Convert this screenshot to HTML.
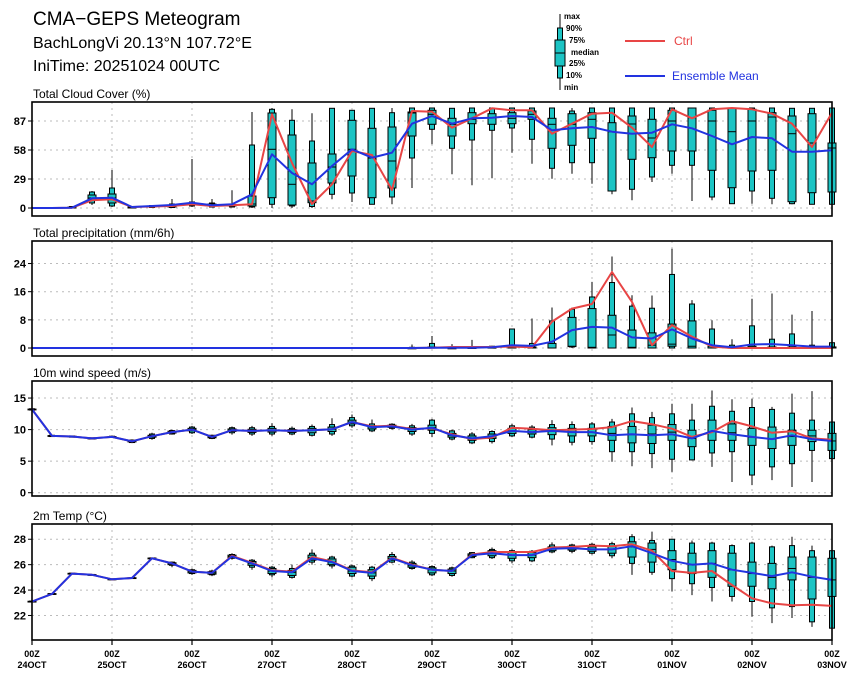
<!DOCTYPE html>
<html><head><meta charset="utf-8"><style>
html,body{margin:0;padding:0;background:#fff;}
svg{display:block;font-family:"Liberation Sans",sans-serif;}
</style></head><body>
<svg id="chart" width="860" height="678" viewBox="0 0 860 678" xmlns="http://www.w3.org/2000/svg">
<text x="33" y="25" font-size="19" fill="#000">CMA−GEPS Meteogram</text>
<text x="33" y="48" font-size="16" fill="#000">BachLongVi 20.13°N 107.72°E</text>
<text x="33" y="71" font-size="16" fill="#000">IniTime: 20251024 00UTC</text>
<g>
  <line x1="560" y1="14" x2="560" y2="90" stroke="#000" stroke-width="1"/>
  <rect x="557.5" y="28" width="5" height="50" fill="#1cc4c4" stroke="#000" stroke-width="1"/>
  <rect x="555" y="40" width="10" height="26" fill="#1cc4c4" stroke="#000" stroke-width="1"/>
  <line x1="555" y1="53" x2="565" y2="53" stroke="#000" stroke-width="1"/>
  <g font-size="8" font-weight="bold" fill="#000">
    <text x="564" y="19">max</text>
    <text x="566" y="31">90%</text>
    <text x="569" y="43">75%</text>
    <text x="571" y="55">median</text>
    <text x="569" y="66">25%</text>
    <text x="566" y="78">10%</text>
    <text x="564" y="90">min</text>
  </g>
  <line x1="625" y1="41" x2="665" y2="41" stroke="#e84545" stroke-width="2"/>
  <text x="674" y="45" font-size="12" fill="#e84545">Ctrl</text>
  <line x1="625" y1="76" x2="665" y2="76" stroke="#2233e0" stroke-width="2"/>
  <text x="672" y="80" font-size="12" fill="#2233e0">Ensemble Mean</text>
</g>
<g id="plots"></g>
</svg>
<script>
const days = ["24OCT","25OCT","26OCT","27OCT","28OCT","29OCT","30OCT","31OCT","01NOV","02NOV","03NOV"];

const cloudCtrl = [0,0,0.3,7.7,8.7,1,1.5,2,3.7,2,2.7,3.7,93.7,45,4,23.7,57,53,18,97,96.3,80.3,89.7,99.7,97.7,97.7,74.3,84.3,94.3,95.3,80.3,61,98.7,89.7,98.7,100,98.7,94.3,84.3,61,95.3];
const cloudMean = [0,0,0.3,9.7,10.3,1,2,3,5.3,2.7,3.7,13.7,53.7,35,23.7,42,58.7,50.3,55.3,84.3,92,84.3,89.7,90.3,92,91,77.7,79.7,81,76.3,74.3,75.3,83.7,79.7,72,63.7,71,69.7,56.3,56.3,57.7];
const cloudBoxes = [
[0,0,0,0,0,0,0],[0,0,0,0,0,0,0],[0,0,0,0.3,1,1.5,2],[3,5,8,10,13,16,17],[1,2,5,10,14,20,38],
[0,0,0,0.5,1,1.5,2],[0,0.5,1,1.5,2,2.5,3],[0,0.5,1,2,3,4,9],[1,2,3,4,5,6,49],[0.5,1,2,3,4,5,9],
[0.5,1,2,2.5,3.5,4,17.7],[0,1,2,4,12,63,96],[0,3.7,10.3,58.7,95,98.7,100],[0,2,3,23.7,73,87.7,98.7],[0,1.5,5.3,7,45,67,94.7],
[8.7,13.7,25,41,54,99.7,100],[6,15,32,58.7,87.7,97.7,98],[3.7,3.7,10.3,50,79.7,99.7,100],[3.7,11,20,47,81,95.3,100],[20,50,72,95,96,100,100],
[63.7,78.7,83.7,93.7,97.7,100,100],[33.7,59.7,72,83.7,89.7,99.7,100],[22.7,68,84.3,88.7,95.3,100,100],[29.7,77.7,83.7,90.3,94.3,100,100],[55.3,80,84.3,89.7,95.3,100,100],
[44.3,68.7,88.7,93.7,97,100,100],[29.3,39.7,59.7,83.7,89.7,100,100],[34.3,45.3,62.7,83.7,94.3,97,100],[24.3,45.3,69.7,88.7,95.3,100,100],[13.7,17,17,76.3,85.3,100,100],
[7.7,18.7,48.7,84,92,100,100],[26,31,50.3,70,88.7,100,100],[34.3,42.7,57,87,97.7,100,100],[7,42.7,57,90.3,100,100,100],[7.7,11,37.7,87,97.7,100,100],
[4.3,4.3,20.3,76.3,100,100,100],[4.3,17,37,87,98.7,100,100],[3.7,9.7,37.7,91,95.3,100,100],[3.7,4.3,6.3,74.3,92,99.7,99.7],[3.7,3.7,15.3,65,94.3,99.7,100],
[3.7,3.7,16,60,65,100,100]];

const precipCtrl = [0,0,0,0,0,0,0,0,0,0,0,0,0,0,0,0,0,0,0,0,0.1,0.3,0.3,0.3,0.4,0.2,7.5,11.2,12.5,21.6,13.1,0.8,6.5,3.2,0.4,0,0,0,0,0,0];
const precipMean = [0,0,0,0,0,0,0,0,0,0,0,0,0,0,0,0,0,0,0,0,0.1,0.1,0.1,0.2,0.8,0.6,1.8,5.1,6.0,5.8,3.0,2.7,5.3,2.7,0.8,0.2,1.0,1.1,0.8,0.4,0.4];
const precipBoxes = [
[0,0,0,0,0,0,0],[0,0,0,0,0,0,0],[0,0,0,0,0,0,0],[0,0,0,0,0,0,0],[0,0,0,0,0,0,0],
[0,0,0,0,0,0,0],[0,0,0,0,0,0,0],[0,0,0,0,0,0,0],[0,0,0,0,0,0,0],[0,0,0,0,0,0,0],
[0,0,0,0,0,0,0],[0,0,0,0,0,0,0],[0,0,0,0,0,0,0],[0,0,0,0,0,0,0],[0,0,0,0,0,0,0],
[0,0,0,0,0,0,0],[0,0,0,0,0,0,0],[0,0,0,0,0,0,0],[0,0,0,0,0,0,0],[0,0,0,0,0,0.2,1],
[0,0,0,0,0.3,1.3,3.4],[0,0,0,0,0,0.1,1.1],[0,0,0,0,0.1,0.3,2.3],[0,0,0,0,0.2,0.5,0.6],[0,0,0,0,0.3,5.4,5.4],
[0,0,0,0,0.3,1.3,8.4],[0,0,0,0,1.3,7.7,11.5],[0,0.3,0.4,0.5,8.7,11,11.5],[0,0,0,0.2,11.2,14.5,18.8],[0,0,0,3.7,9.3,18.6,26],
[0,0,0,0.2,5.1,11.9,15],[0,0,0,0.8,4.3,11.3,14.9],[0,0,0.5,1.1,6.8,20.9,28.2],[0,0,0,0.5,7.7,12.5,13.6],[0,0,0,0,0.5,5.4,7.9],
[0,0,0,0,0.2,0.8,2.5],[0,0,0,0.2,0.5,6.3,14],[0,0,0,0,0.3,2.5,15.5],[0,0,0,0,0.3,4.0,9.5],[0,0,0,0,0.2,0.8,10.5],
[0,0,0,0,0.3,1.5,1.5]];

const windCtrl = [13.2,9.0,8.9,8.6,8.85,8.15,8.95,9.6,10.0,8.85,9.9,9.8,9.9,9.8,9.9,10.05,11.2,10.5,10.6,10.1,10.2,9.25,8.5,8.75,10.3,10.15,9.9,10.0,10.1,10.4,11.35,10.85,10.15,8.85,9.6,11.35,10.5,9.5,9.75,8.6,8.4];
const windMean = [13.2,9.0,8.9,8.6,8.85,8.15,8.95,9.6,10.0,8.85,9.9,9.8,9.9,9.8,9.9,10.05,11.2,10.4,10.5,10.0,10.3,9.1,8.6,8.95,9.8,9.6,9.8,9.6,9.6,9.1,9.25,9.1,9.25,8.6,9.8,9.25,8.85,8.5,9.1,8.5,8.2];
const windBoxes = [
[13.0,13.1,13.15,13.2,13.25,13.3,13.4],[8.85,8.9,8.95,9.0,9.05,9.1,9.15],[8.75,8.8,8.85,8.9,8.95,9.0,9.05],[8.45,8.5,8.55,8.6,8.65,8.7,8.75],[8.7,8.75,8.8,8.85,8.9,8.95,9.0],
[7.85,7.95,8.05,8.15,8.25,8.35,8.45],[8.4,8.6,8.8,8.95,9.1,9.3,9.5],[9.2,9.3,9.45,9.6,9.75,9.85,10.0],[9.3,9.5,9.8,10.0,10.2,10.4,10.6],[8.5,8.6,8.7,8.85,9.0,9.1,9.2],
[9.2,9.5,9.7,9.9,10.1,10.3,10.5],[9.0,9.3,9.55,9.8,10.05,10.3,10.6],[9.0,9.3,9.6,9.9,10.2,10.5,11.0],[9.1,9.3,9.55,9.8,10.0,10.2,10.5],[8.9,9.1,9.5,9.9,10.2,10.5,10.8],
[9.0,9.3,9.7,10.05,10.4,10.8,11.8],[10.3,10.6,10.9,11.2,11.5,11.9,12.4],[9.6,9.8,10.1,10.4,10.6,10.9,11.6],[10.0,10.2,10.35,10.5,10.7,10.85,11.0],[9.0,9.3,9.7,10.0,10.3,10.6,10.9],
[8.8,9.4,9.9,10.3,10.7,11.5,11.7],[8.3,8.5,8.8,9.1,9.4,9.8,10.0],[7.7,7.9,8.3,8.6,9.0,9.3,9.6],[7.8,8.1,8.6,8.95,9.3,9.7,9.9],[8.8,9.0,9.4,9.8,10.2,10.6,10.9],
[8.6,8.8,9.3,9.6,10.0,10.4,10.7],[7.5,8.5,9.2,9.8,10.3,10.8,11.5],[7.5,8.0,9.0,9.6,10.2,10.8,11.3],[7.6,8.1,9.0,9.6,10.2,10.9,11.2],[4.9,6.5,8.3,9.4,10.5,11.2,11.7],
[4.2,6.5,7.9,9.2,10.5,12.5,13.5],[3.9,6.2,7.8,9.3,10.7,11.9,12.8],[3.3,5.3,8.3,9.6,10.8,12.5,14.1],[5.1,5.2,7.3,8.6,9.9,11.5,14.1],[4.1,6.3,8.3,9.7,11.5,13.7,16.2],
[1.7,6.5,8.3,9.5,10.9,12.9,14.8],[1.2,2.8,7.5,8.8,10.2,13.5,14.9],[2.0,4.1,7.0,8.5,10.4,13.2,13.6],[0.9,4.6,7.5,8.9,9.9,12.6,15.7],[1.7,6.7,8.1,9.0,9.9,11.5,16.1],
[5.4,5.4,6.7,8.2,9.4,11.2,11.2]];

const tempCtrl = [23.1,23.7,25.3,25.2,24.85,24.95,26.5,26.1,25.45,25.35,26.7,26.15,25.55,25.45,26.6,26.25,25.55,25.4,26.55,26.0,25.6,25.5,26.8,27.0,27.0,27.0,27.35,27.4,27.5,27.45,27.6,27.1,25.5,25.35,25.5,24.4,23.35,22.95,22.8,22.85,22.75];
const tempMean = [23.1,23.7,25.3,25.2,24.85,24.95,26.5,26.1,25.45,25.35,26.65,26.1,25.5,25.4,26.5,26.2,25.5,25.35,26.5,25.95,25.6,25.5,26.75,26.9,26.75,26.75,27.25,27.3,27.2,27.2,27.45,26.9,26.3,26.0,26.1,25.6,25.35,25.1,25.4,25.05,24.8];
const tempBoxes = [
[23.05,23.07,23.08,23.1,23.12,23.13,23.15],[23.65,23.67,23.68,23.7,23.72,23.73,23.75],[25.25,25.27,25.28,25.3,25.32,25.33,25.35],[25.15,25.17,25.18,25.2,25.22,25.23,25.25],[24.8,24.82,24.83,24.85,24.87,24.88,24.9],
[24.9,24.92,24.93,24.95,24.97,24.98,25.0],[26.45,26.47,26.48,26.5,26.52,26.53,26.55],[25.8,25.95,26.0,26.1,26.15,26.2,26.25],[25.2,25.3,25.35,25.45,25.55,25.6,25.7],[25.1,25.2,25.25,25.35,25.45,25.5,25.6],
[26.4,26.5,26.55,26.65,26.75,26.8,26.9],[25.6,25.8,25.95,26.1,26.25,26.35,26.45],[25.0,25.2,25.3,25.5,25.7,25.8,25.9],[24.9,25.0,25.15,25.4,25.55,25.7,26.0],[26.0,26.2,26.35,26.55,26.75,26.9,27.2],
[25.7,25.9,26.0,26.2,26.45,26.6,26.7],[25.0,25.1,25.3,25.5,25.8,25.9,26.0],[24.7,24.9,25.1,25.35,25.6,25.8,25.9],[26.1,26.2,26.35,26.5,26.65,26.8,27.0],[25.6,25.7,25.8,25.95,26.1,26.2,26.35],
[25.1,25.2,25.35,25.6,25.75,25.85,25.95],[25.05,25.15,25.3,25.5,25.65,25.75,25.85],[26.5,26.55,26.65,26.75,26.85,26.95,27.0],[26.45,26.55,26.7,26.9,27.1,27.2,27.35],[26.1,26.3,26.5,26.75,26.95,27.1,27.2],
[26.2,26.3,26.55,26.75,26.95,27.05,27.15],[26.9,27.0,27.1,27.25,27.4,27.55,27.75],[26.9,27.05,27.15,27.3,27.45,27.55,27.65],[26.8,26.9,27.05,27.2,27.4,27.6,27.7],[26.5,26.7,26.9,27.2,27.45,27.65,27.8],
[25.2,26.1,26.6,27.4,27.8,28.2,28.4],[25.2,25.4,26.2,27.2,27.7,27.9,28.6],[23.9,24.9,25.6,26.4,27.1,28.0,28.05],[23.6,24.5,25.3,26.0,26.9,27.7,27.9],[23.1,24.2,25.0,26.1,27.1,27.7,27.8],
[23.1,23.5,24.3,25.6,26.9,27.5,27.6],[21.9,23.1,24.3,25.3,26.2,27.7,27.8],[21.4,22.6,24.1,25.0,26.1,27.4,27.5],[21.8,22.7,24.8,25.7,26.6,27.5,28.2],[21.1,21.5,23.3,25.0,26.6,27.1,27.5],
[21.0,21.0,23.5,24.8,26.5,27.1,27.1]];

const cloudTicks = [0,29,58,87];
const precipTicks = [0,8,16,24];
const windTicks = [0,5,10,15];
const tempTicks = [22,24,26,28];

const NS = "http://www.w3.org/2000/svg";
const plots = document.getElementById("plots");
const XL = 32, XR = 832, NSTEP = 40;
function xAt(i){ return XL + (XR - XL) * i / NSTEP; }
function mk(tag, attrs, parent){
  const e = document.createElementNS(NS, tag);
  for (const k in attrs) e.setAttribute(k, attrs[k]);
  parent.appendChild(e);
  return e;
}

const panels = [
  {key:"cloud", title:"Total Cloud Cover (%)", top:102, bottom:216, vmin:-8, vmax:106, ticks:cloudTicks, ctrl:cloudCtrl, mean:cloudMean, boxes:cloudBoxes},
  {key:"precip", title:"Total precipitation (mm/6h)", top:241, bottom:356, vmin:-2.27, vmax:30.4, ticks:precipTicks, ctrl:precipCtrl, mean:precipMean, boxes:precipBoxes},
  {key:"wind", title:"10m wind speed (m/s)", top:381, bottom:496, vmin:-0.52, vmax:17.7, ticks:windTicks, ctrl:windCtrl, mean:windMean, boxes:windBoxes},
  {key:"temp", title:"2m Temp (°C)", top:524, bottom:640, vmin:20.07, vmax:29.2, ticks:tempTicks, ctrl:tempCtrl, mean:tempMean, boxes:tempBoxes}
];

panels.forEach(function(p){
  const yAt = function(v){ return p.bottom - (v - p.vmin) / (p.vmax - p.vmin) * (p.bottom - p.top); };
  const g = mk("g", {}, plots);
  
  
  const t = mk("text", {x:33, y:p.top-4, "font-size":12, fill:"#000"}, g);
  t.textContent = p.title;
  
  
  // grid
  p.ticks.forEach(function(v){
    const y = yAt(v);
    const gl = mk("line", {x1:XL, x2:XR, y1:y, y2:y, stroke:"#bbb", "stroke-width":1, "stroke-dasharray":"2,4"}, g);
    
    
    const tk = mk("line", {x1:XL-4, x2:XL, y1:y, y2:y, stroke:"#000", "stroke-width":1}, g);
    
    
    const lb = mk("text", {x:26, y:y+4, "font-size":11, "font-weight":"bold", "text-anchor":"end", fill:"#000"}, g);
    lb.textContent = String(v);
    
    
  });
  for (let d = 1; d < days.length - 1; d++){
    const x = xAt(d*4);
    const gv = mk("line", {x1:x, x2:x, y1:p.top, y2:p.bottom, stroke:"#bbb", "stroke-width":1, "stroke-dasharray":"2,4"}, g);
    
    
  }
  // boxes
  p.boxes.forEach(function(b, i){
    const x = xAt(i);
    const bg = mk("g", {}, g);
    
    
    const range = b[6] - b[0];
    if (range <= 0) return;
    mk("line", {x1:x, x2:x, y1:yAt(b[0]), y2:yAt(b[6]), stroke:"#000", "stroke-width":1}, bg);
    const y90 = yAt(b[5]), y10 = yAt(b[1]);
    mk("rect", {x:x-2.5, y:y90, width:5, height:Math.max(0.8, y10-y90), fill:"#1cc4c4", stroke:"#000", "stroke-width":1}, bg);
    const y75 = yAt(b[4]), y25 = yAt(b[2]);
    mk("rect", {x:x-4, y:y75, width:8, height:Math.max(0.8, y25-y75), fill:"#1cc4c4", stroke:"#000", "stroke-width":1}, bg);
    const ym = yAt(b[3]);
    mk("line", {x1:x-4, x2:x+4, y1:ym, y2:ym, stroke:"#000", "stroke-width":1}, bg);
  });
  // lines
  const ctrlPts = p.ctrl.map(function(v,i){ return xAt(i).toFixed(1)+","+yAt(v).toFixed(1); }).join(" ");
  const cl = mk("polyline", {points:ctrlPts, fill:"none", stroke:"#e84545", "stroke-width":2, "stroke-linejoin":"round"}, g);
  
  
  const meanPts = p.mean.map(function(v,i){ return xAt(i).toFixed(1)+","+yAt(v).toFixed(1); }).join(" ");
  const ml = mk("polyline", {points:meanPts, fill:"none", stroke:"#2233e0", "stroke-width":2, "stroke-linejoin":"round"}, g);
  
  
  // border
  const br = mk("rect", {x:XL, y:p.top, width:XR-XL, height:p.bottom-p.top, fill:"none", stroke:"#000", "stroke-width":1.6}, g);
  
  
});

// x axis labels
const xg = mk("g", {}, plots);


days.forEach(function(d, k){
  const x = xAt(k*4);
  const tk = mk("line", {x1:x, x2:x, y1:640, y2:645, stroke:"#000", "stroke-width":1.2}, xg);
  
  
  const t1 = mk("text", {x:x, y:657, "font-size":9, "font-weight":"bold", "text-anchor":"middle", fill:"#000"}, xg);
  t1.textContent = "00Z";
  
  
  const t2 = mk("text", {x:x, y:668, "font-size":9, "font-weight":"bold", "text-anchor":"middle", fill:"#000"}, xg);
  t2.textContent = d;
  
  
});
</script>
</body></html>
